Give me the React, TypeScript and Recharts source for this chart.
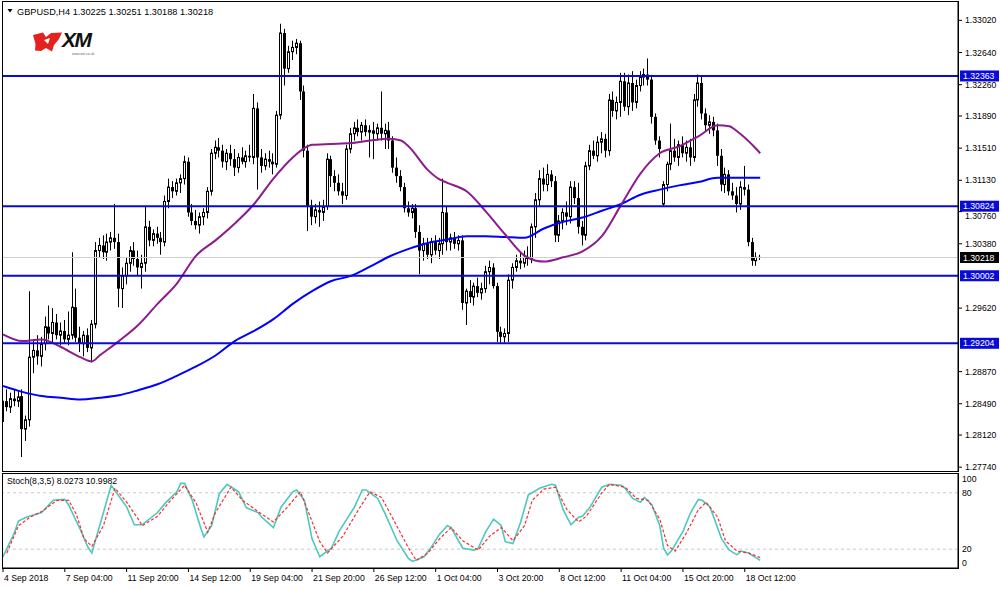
import React from 'react';
import { ComposedChart, Bar, Line, XAxis, YAxis, ReferenceLine } from 'recharts';

const FONT = '"Liberation Sans", Arial, sans-serif';

// ---------- price data (H4 candles, index 0..196) ----------
const opens = [
  1.2828, 1.2852, 1.2845, 1.2855, 1.2852, 1.2858, 1.2819, 1.2830, 1.2904, 1.2912,
  1.2905, 1.2920, 1.2940, 1.2932, 1.2945, 1.2930, 1.2935, 1.2925, 1.2930, 1.2963,
  1.2927, 1.2920, 1.2930, 1.2915, 1.2943, 1.3030, 1.3036, 1.3028, 1.3040, 1.3045,
  1.3040, 1.2985, 1.3000, 1.3015, 1.3030, 1.3020, 1.3010, 1.3015, 1.3058, 1.3042,
  1.3050, 1.3045, 1.3040, 1.3088, 1.3105, 1.3100, 1.3110, 1.3115, 1.3135, 1.3075,
  1.3065, 1.3060, 1.3070, 1.3075, 1.3100, 1.3145, 1.3152, 1.3148, 1.3135, 1.3145,
  1.3138, 1.3128, 1.3140, 1.3135, 1.3142, 1.3140, 1.3198, 1.3140, 1.3130, 1.3138,
  1.3135, 1.3132, 1.3190, 1.3287, 1.3245, 1.3265, 1.3270, 1.3275, 1.3218, 1.3148,
  1.3083, 1.3070, 1.3078, 1.3075, 1.3082, 1.3138, 1.3118, 1.3110, 1.3100, 1.3095,
  1.3150, 1.3168, 1.3175, 1.3170, 1.3178, 1.3170, 1.3172, 1.3168, 1.3175, 1.3168,
  1.3172, 1.3160, 1.3128, 1.3118, 1.3105, 1.3080, 1.3075, 1.3080, 1.3052, 1.3030,
  1.3038, 1.3025, 1.3040, 1.3030, 1.3038, 1.3075, 1.3040, 1.3045, 1.3038, 1.3042,
  1.2968, 1.2982, 1.2975, 1.2988, 1.2980, 1.2985, 1.3005, 1.3010, 1.2988, 1.2934,
  1.2928, 1.2932, 1.2995, 1.3010, 1.3018, 1.3015, 1.3022, 1.3020, 1.3058, 1.3090,
  1.3115, 1.3108, 1.3120, 1.3112, 1.3048, 1.3065, 1.3075, 1.3070, 1.3105, 1.3092,
  1.3058, 1.3048, 1.3130, 1.3148, 1.3142, 1.3158, 1.3162, 1.3148, 1.3208, 1.3195,
  1.3205, 1.3230, 1.3200, 1.3228, 1.3205, 1.3225, 1.3235, 1.3238, 1.3232, 1.3188,
  1.3160, 1.3085, 1.3108, 1.3132, 1.3148, 1.3140, 1.3155, 1.3145, 1.3152, 1.3140,
  1.3208, 1.3228, 1.3192, 1.3178, 1.3182, 1.3172, 1.3142, 1.3108, 1.3120, 1.3100,
  1.3095, 1.3085, 1.3105, 1.3102, 1.3040, 1.3018, 1.30225,
];
const highs = [
  1.2857, 1.2866, 1.2862, 1.2866, 1.2864, 1.2866, 1.2835, 1.2982, 1.2925, 1.2930,
  1.2928, 1.2952, 1.2965, 1.2962, 1.2955, 1.2945, 1.2948, 1.2958, 1.3028, 1.2985,
  1.2940, 1.2935, 1.2938, 1.2948, 1.3040, 1.3045, 1.3048, 1.3050, 1.3052, 1.3085,
  1.3050, 1.3010, 1.3022, 1.3035, 1.3040, 1.3030, 1.3025, 1.3082, 1.3065, 1.3055,
  1.3058, 1.3052, 1.3095, 1.3115, 1.3112, 1.3115, 1.3120, 1.3142, 1.3140, 1.3085,
  1.3078, 1.3075, 1.3080, 1.3105, 1.3150, 1.3160, 1.3163, 1.3155, 1.3150, 1.3155,
  1.3150, 1.3145, 1.3152, 1.3148, 1.3155, 1.3215, 1.3205, 1.3150, 1.3145, 1.3148,
  1.3145, 1.3195, 1.3298, 1.3292, 1.3272, 1.3278, 1.3280, 1.3278, 1.3225, 1.3155,
  1.3090, 1.3085, 1.3088, 1.3090, 1.3145, 1.3142, 1.3125, 1.3120, 1.3110, 1.3155,
  1.3175, 1.3182, 1.3185, 1.3182, 1.3185, 1.3178, 1.3182, 1.3180, 1.3218, 1.3180,
  1.3182, 1.3165, 1.3140, 1.3125, 1.3110, 1.3088, 1.3085, 1.3085, 1.3060, 1.3045,
  1.3045, 1.3045, 1.3048, 1.3045, 1.3115, 1.3082, 1.3050, 1.3052, 1.3048, 1.3048,
  1.2985, 1.2995, 1.2992, 1.2998, 1.2992, 1.3012, 1.3018, 1.3015, 1.2992, 1.2940,
  1.2938, 1.3002, 1.3015, 1.3025, 1.3028, 1.3030, 1.3035, 1.3062, 1.3098, 1.3125,
  1.3128, 1.3132, 1.3125, 1.3118, 1.3072, 1.3080, 1.3088, 1.3112, 1.3112, 1.3110,
  1.3065, 1.3135, 1.3155, 1.3160, 1.3165, 1.3170, 1.3168, 1.3215, 1.3218, 1.3212,
  1.3240, 1.3240, 1.3238, 1.3242, 1.3232, 1.3242, 1.3245, 1.3257, 1.3236, 1.3192,
  1.3165, 1.3112, 1.3135, 1.3180, 1.3162, 1.3160, 1.3165, 1.3160, 1.3162, 1.3215,
  1.3238, 1.3237, 1.3198, 1.3190, 1.3188, 1.3180, 1.3150, 1.3128, 1.3125, 1.3110,
  1.3105, 1.3112, 1.3130, 1.3108, 1.3045, 1.3028, 1.30251,
];
const lows = [
  1.2812, 1.2840, 1.2838, 1.2846, 1.2845, 1.2786, 1.2805, 1.2822, 1.2885, 1.2895,
  1.2893, 1.2912, 1.2925, 1.2920, 1.2925, 1.2918, 1.2920, 1.2918, 1.2925, 1.2922,
  1.2910, 1.2905, 1.2910, 1.2898, 1.2938, 1.3022, 1.3020, 1.3018, 1.3030, 1.3032,
  1.2963, 1.2962, 1.2990, 1.3005, 1.3012, 1.3000, 1.2985, 1.3005, 1.3035, 1.3035,
  1.3038, 1.3025, 1.3035, 1.3080, 1.3092, 1.3095, 1.3098, 1.3108, 1.3070, 1.3060,
  1.3055, 1.3050, 1.3060, 1.3068, 1.3095, 1.3138, 1.3140, 1.3128, 1.3125, 1.3130,
  1.3118, 1.3122, 1.3132, 1.3128, 1.3135, 1.3132, 1.3102, 1.3122, 1.3125, 1.3128,
  1.3120, 1.3128, 1.3185, 1.3225, 1.3240, 1.3255, 1.3262, 1.3208, 1.3140, 1.3053,
  1.3060, 1.3062, 1.3058, 1.3065, 1.3078, 1.3105, 1.3100, 1.3095, 1.3085, 1.3090,
  1.3145, 1.3160, 1.3165, 1.3160, 1.3165, 1.3140, 1.3138, 1.3160, 1.3160, 1.3150,
  1.3150, 1.3122, 1.3110, 1.3100, 1.3075, 1.3070, 1.3068, 1.3045, 1.3002, 1.3018,
  1.3020, 1.3015, 1.3025, 1.3020, 1.3025, 1.3030, 1.3030, 1.3032, 1.3030, 1.2960,
  1.2942, 1.2968, 1.2965, 1.2975, 1.2972, 1.2980, 1.2990, 1.2985, 1.2922, 1.2921,
  1.2921, 1.2922, 1.2985, 1.3005, 1.3008, 1.3010, 1.3012, 1.3015, 1.3045, 1.3082,
  1.3100, 1.3100, 1.3105, 1.3040, 1.3040, 1.3055, 1.3060, 1.3062, 1.3085, 1.3050,
  1.3036, 1.3042, 1.3125, 1.3138, 1.3135, 1.3145, 1.3140, 1.3142, 1.3188, 1.3185,
  1.3188, 1.3195, 1.3190, 1.3195, 1.3198, 1.3218, 1.3225, 1.3225, 1.3180, 1.3155,
  1.3140, 1.3082, 1.3100, 1.3125, 1.3135, 1.3130, 1.3140, 1.3135, 1.3130, 1.3135,
  1.3200, 1.3185, 1.3170, 1.3168, 1.3165, 1.3130, 1.3100, 1.3098, 1.3095, 1.3090,
  1.3075, 1.3078, 1.3095, 1.3035, 1.3012, 1.3012, 1.30188,
];
const closes = [
  1.2852, 1.2845, 1.2855, 1.2852, 1.2857, 1.2819, 1.2830, 1.2904, 1.2912, 1.2905,
  1.2920, 1.2940, 1.2932, 1.2945, 1.2930, 1.2935, 1.2925, 1.2930, 1.2963, 1.2927,
  1.2920, 1.2930, 1.2915, 1.2943, 1.3030, 1.3036, 1.3028, 1.3040, 1.3045, 1.3040,
  1.2985, 1.3000, 1.3015, 1.3030, 1.3020, 1.3010, 1.3015, 1.3058, 1.3042, 1.3050,
  1.3045, 1.3040, 1.3088, 1.3105, 1.3100, 1.3110, 1.3115, 1.3135, 1.3075, 1.3065,
  1.3060, 1.3070, 1.3075, 1.3100, 1.3145, 1.3152, 1.3148, 1.3135, 1.3145, 1.3138,
  1.3128, 1.3140, 1.3135, 1.3142, 1.3140, 1.3198, 1.3140, 1.3130, 1.3138, 1.3135,
  1.3132, 1.3190, 1.3287, 1.3245, 1.3265, 1.3270, 1.3275, 1.3218, 1.3148, 1.3083,
  1.3070, 1.3078, 1.3075, 1.3082, 1.3138, 1.3118, 1.3110, 1.3100, 1.3095, 1.3150,
  1.3168, 1.3175, 1.3170, 1.3178, 1.3170, 1.3172, 1.3168, 1.3175, 1.3168, 1.3172,
  1.3160, 1.3128, 1.3118, 1.3105, 1.3080, 1.3075, 1.3080, 1.3052, 1.3030, 1.3038,
  1.3025, 1.3040, 1.3030, 1.3038, 1.3075, 1.3040, 1.3045, 1.3038, 1.3042, 1.2968,
  1.2982, 1.2975, 1.2988, 1.2980, 1.2985, 1.3005, 1.3010, 1.2988, 1.2934, 1.2928,
  1.2932, 1.2995, 1.3010, 1.3018, 1.3015, 1.3022, 1.3020, 1.3058, 1.3090, 1.3115,
  1.3108, 1.3120, 1.3112, 1.3048, 1.3065, 1.3075, 1.3070, 1.3105, 1.3092, 1.3058,
  1.3048, 1.3130, 1.3148, 1.3142, 1.3158, 1.3162, 1.3148, 1.3208, 1.3195, 1.3205,
  1.3230, 1.3200, 1.3228, 1.3205, 1.3225, 1.3235, 1.3238, 1.3232, 1.3188, 1.3160,
  1.3150, 1.3108, 1.3132, 1.3148, 1.3140, 1.3155, 1.3145, 1.3152, 1.3140, 1.3208,
  1.3228, 1.3192, 1.3178, 1.3182, 1.3172, 1.3142, 1.3108, 1.3120, 1.3100, 1.3095,
  1.3085, 1.3105, 1.3102, 1.3040, 1.3018, 1.3022, 1.30218,
];

const maFastIdx = [0, 5, 10, 15, 20, 23, 25, 30, 35, 40, 45, 50, 55, 60, 65, 70, 75, 78, 80, 85, 90, 95, 100, 103, 105, 110, 113, 115, 120, 125, 130, 135, 138, 140, 145, 150, 155, 160, 165, 170, 175, 180, 185, 188, 190, 195, 196];
const maFastVal = [1.2931, 1.2923, 1.2925, 1.2916, 1.2904, 1.2899, 1.2906, 1.2923, 1.2942, 1.2967, 1.2991, 1.3024, 1.3042, 1.3062, 1.3085, 1.3115, 1.3140, 1.3151, 1.3155, 1.3156, 1.3157, 1.3160, 1.3162, 1.3160, 1.3153, 1.3125, 1.3114, 1.3110, 1.3100, 1.3076, 1.3049, 1.3024, 1.3018, 1.3017, 1.3022, 1.3029, 1.3047, 1.3084, 1.3121, 1.3145, 1.3153, 1.3165, 1.3178, 1.3177, 1.3171, 1.3150, 1.3145];
const maSlowIdx = [0, 5, 10, 15, 20, 25, 30, 35, 40, 45, 50, 55, 60, 65, 70, 75, 80, 85, 90, 95, 100, 105, 110, 115, 120, 125, 130, 135, 140, 145, 150, 155, 160, 165, 170, 175, 180, 185, 190, 196];
const maSlowVal = [1.2870, 1.2863, 1.2858, 1.2856, 1.2854, 1.2856, 1.2859, 1.2865, 1.2872, 1.2882, 1.2893, 1.2906, 1.2923, 1.2935, 1.2949, 1.2967, 1.2982, 1.2994, 1.3000, 1.3011, 1.3023, 1.3032, 1.3039, 1.3043, 1.3047, 1.3047, 1.3046, 1.3045, 1.3056, 1.3064, 1.3069, 1.3077, 1.3085, 1.3096, 1.3102, 1.3107, 1.3111, 1.3116, 1.3116, 1.3116];

// stochastic (8,3,5)
const stochKIdx = [0, 3, 4, 6, 10, 13, 16, 17, 20, 22, 23, 26, 28, 32, 34, 36, 40, 42, 45, 46, 47, 49, 51, 52, 54, 56, 58, 61, 63, 66, 67, 70, 72, 75, 76, 78, 80, 82, 85, 87, 91, 93, 94, 97, 99, 102, 105, 106, 109, 111, 113, 115, 116, 119, 122, 123, 125, 127, 129, 130, 132, 134, 136, 137, 139, 142, 143, 145, 147, 149, 150, 152, 155, 157, 160, 161, 163, 165, 166, 168, 170, 171, 172, 173, 176, 178, 180, 181, 183, 186, 188, 190, 191, 193, 196];
const stochKVal = [12, 38, 50, 54, 59, 72, 73, 67, 41, 22, 16, 59, 88, 65, 46, 46, 59, 69, 81, 90, 90, 72, 45, 33, 45, 79, 89, 81, 64, 59, 54, 43, 65, 81, 83, 72, 31, 12, 21, 39, 65, 83, 83, 74, 57, 29, 10, 7, 12, 23, 36, 45, 43, 21, 19, 21, 39, 52, 45, 28, 26, 49, 78, 80, 85, 89, 88, 62, 46, 54, 55, 65, 86, 89, 88, 85, 74, 70, 75, 67, 45, 21, 14, 18, 39, 59, 73, 72, 65, 31, 19, 14, 18, 16, 8.03];
const stochDIdx = [1, 4, 7, 10, 14, 17, 19, 21, 23, 26, 29, 32, 35, 36, 40, 43, 47, 50, 53, 55, 59, 62, 66, 70, 73, 77, 79, 82, 84, 88, 92, 95, 98, 101, 105, 107, 110, 113, 116, 119, 123, 126, 129, 132, 135, 137, 140, 143, 146, 149, 151, 155, 157, 161, 164, 167, 170, 172, 174, 177, 180, 182, 185, 187, 190, 193, 196];
const stochDVal = [16, 45, 54, 60, 72, 72, 57, 31, 23, 45, 85, 70, 52, 45, 55, 70, 88, 69, 38, 59, 86, 72, 60, 49, 62, 81, 60, 28, 16, 34, 62, 81, 75, 52, 21, 8, 16, 31, 43, 29, 19, 34, 43, 29, 45, 72, 84, 86, 62, 49, 55, 80, 89, 86, 74, 72, 52, 24, 18, 38, 62, 70, 54, 29, 18, 16, 11.0];

// levels and axes
const levelLines = [1.32363, 1.30824, 1.30002, 1.29204];
const lastPrice = 1.30218;
const priceTicks = [1.3302, 1.3264, 1.3226, 1.3189, 1.3151, 1.3113, 1.3076, 1.3038, 1.2962, 1.2887, 1.2849, 1.2812, 1.2774];
const stochTicks = [0, 20, 80, 100];
const timeTickIdx = [0, 16, 32, 48, 64, 80, 96, 112, 128, 144, 160, 176, 192];
const timeTickLabels = ['4 Sep 2018', '7 Sep 04:00', '11 Sep 20:00', '14 Sep 12:00', '19 Sep 04:00', '21 Sep 20:00', '26 Sep 12:00', '1 Oct 04:00', '3 Oct 20:00', '8 Oct 12:00', '11 Oct 04:00', '15 Oct 20:00', '18 Oct 12:00'];

const X_DOMAIN: [number, number] = [0, 247.2];
const PRICE_DOMAIN: [number, number] = [1.27695, 1.33237];

const priceRows: any[] = opens.map((o, i) => ({
  i, o, h: highs[i], l: lows[i], c: closes[i], range: [lows[i], highs[i]], fast: null, slow: null,
}));
maFastIdx.forEach((idx, k) => { priceRows[idx].fast = maFastVal[k]; });
maSlowIdx.forEach((idx, k) => { priceRows[idx].slow = maSlowVal[k]; });

const stochRows: any[] = opens.map((_, i) => ({ i, k: null, d: null }));
stochKIdx.forEach((idx, n) => { stochRows[idx].k = stochKVal[n]; });
stochDIdx.forEach((idx, n) => { stochRows[idx].d = stochDVal[n]; });

const Candle = (props: any) => {
  const { x, y, width, height, payload } = props;
  if (!payload || x == null) return null;
  const { o, h, l, c } = payload;
  const top0 = Math.min(y, y + height);
  const hg = Math.abs(height);
  const cx = Math.floor(x + width / 2) + 0.5;
  const span = h - l;
  const ppp = span > 0 ? hg / span : 0;
  const yOf = (p: number) => top0 + (h - p) * ppp;
  const bTop = yOf(Math.max(o, c));
  const bBot = yOf(Math.min(o, c));
  const bull = c >= o;
  return (
    <g>
      <line x1={cx} x2={cx} y1={top0} y2={top0 + hg} stroke="#000" strokeWidth={1} />
      {bull ? (
        <rect x={cx - 1} y={bTop} width={2} height={Math.max(bBot - bTop, 0.6)} fill="#fff" stroke="#000" strokeWidth={1} />
      ) : (
        <rect x={cx - 1.5} y={bTop} width={3} height={Math.max(bBot - bTop, 1)} fill="#000" />
      )}
    </g>
  );
};

const PriceTag = ({ viewBox, text, bg }: any) => {
  if (!viewBox) return null;
  const x = viewBox.x + viewBox.width + 2;
  const y = viewBox.y;
  return (
    <g>
      <rect x={x} y={y - 5.5} width={39} height={11} fill={bg} />
      <text x={x + 3} y={y} dy="0.35em" fill="#fff" fontSize={8.7} fontFamily={FONT}>{text}</text>
    </g>
  );
};

const PriceTick = (props: any) => {
  const { x, y, payload } = props;
  const v = payload.value;
  const off = Math.abs(v - 1.3076) < 1e-6 ? 4.5 : 0;
  return (
    <text x={x} y={y + off} dy="0.35em" textAnchor="start" fontSize={8.7} fill="#000" fontFamily={FONT}>{v.toFixed(5)}</text>
  );
};

const TimeTick = (props: any) => {
  const { x, y, payload } = props;
  const label = timeTickLabels[timeTickIdx.indexOf(payload.value)];
  return (
    <text x={x + 1} y={y} dy="0.71em" textAnchor="start" fontSize={8.7} fill="#000" fontFamily={FONT}>{label}</text>
  );
};

const StochTick = (props: any) => {
  const { x, y, payload } = props;
  const v = payload.value;
  const off = v === 100 ? 5 : v === 0 ? -5 : 0;
  return (
    <text x={x} y={y + off} dy="0.35em" textAnchor="start" fontSize={8.7} fill="#000" fontFamily={FONT}>{v}</text>
  );
};

const BLUE_LVL = '#0a0ad8';

export default function App() {
  return (
    <div style={{ position: 'absolute', left: 0, top: 0, width: 1000, height: 590, background: '#fff', overflow: 'hidden', fontFamily: FONT }}>
      <div style={{ position: 'absolute', left: 0, top: 0 }}>
        <ComposedChart width={1000} height={472} data={priceRows} margin={{ top: 2, right: 0, bottom: 1, left: 3 }}>
          <XAxis dataKey="i" type="number" domain={X_DOMAIN} allowDataOverflow hide />
          <YAxis
            orientation="right"
            width={42}
            type="number"
            domain={PRICE_DOMAIN}
            allowDataOverflow
            ticks={priceTicks}
            interval={0}
            tickSize={4}
            tickMargin={3}
            axisLine={{ stroke: '#000' }}
            tickLine={{ stroke: '#000' }}
            tick={(p: any) => <PriceTick {...p} />}
          />
          <ReferenceLine
            y={lastPrice}
            stroke="#cfcfcf"
            strokeWidth={1}
            label={(p: any) => <PriceTag viewBox={p.viewBox} text={lastPrice.toFixed(5)} bg="#000" />}
          />
          <Bar dataKey="range" barSize={3} shape={(p: any) => <Candle {...p} />} isAnimationActive={false} />
          <Line dataKey="slow" type="monotone" stroke="#0000ff" strokeWidth={2} dot={false} connectNulls isAnimationActive={false} />
          <Line dataKey="fast" type="monotone" stroke="#8c1c8c" strokeWidth={2} dot={false} connectNulls isAnimationActive={false} />
          {levelLines.map((lv) => (
            <ReferenceLine
              key={lv}
              y={lv}
              stroke={BLUE_LVL}
              strokeWidth={2}
              label={(p: any) => <PriceTag viewBox={p.viewBox} text={lv.toFixed(5)} bg={BLUE_LVL} />}
            />
          ))}
        </ComposedChart>
      </div>
      <div style={{ position: 'absolute', left: 0, top: 472 }}>
        <ComposedChart width={1000} height={118} data={stochRows} margin={{ top: 2, right: 0, bottom: 0, left: 3 }}>
          <XAxis
            dataKey="i"
            type="number"
            domain={X_DOMAIN}
            allowDataOverflow
            ticks={timeTickIdx}
            interval={0}
            height={22}
            tickSize={4}
            tickMargin={3}
            axisLine={{ stroke: '#000' }}
            tickLine={{ stroke: '#000' }}
            tick={(p: any) => <TimeTick {...p} />}
          />
          <YAxis
            orientation="right"
            width={42}
            type="number"
            domain={[0, 100]}
            allowDataOverflow
            ticks={stochTicks}
            interval={0}
            tickSize={4}
            tickMargin={0}
            tickLine={false}
            axisLine={{ stroke: '#000' }}
            tick={(p: any) => <StochTick {...p} />}
          />
          <ReferenceLine y={80} stroke="#c8c8c8" strokeDasharray="3 3" />
          <ReferenceLine y={20} stroke="#c8c8c8" strokeDasharray="3 3" />
          <Line dataKey="k" type="linear" stroke="#4cc8bc" strokeWidth={1.6} dot={false} connectNulls isAnimationActive={false} />
          <Line dataKey="d" type="linear" stroke="#ff2a2a" strokeWidth={1.2} strokeDasharray="3 2" dot={false} connectNulls isAnimationActive={false} />
        </ComposedChart>
      </div>
      {/* panel frames */}
      <div style={{ position: 'absolute', left: 2, top: 1, width: 957, height: 471, border: '1px solid #000', boxSizing: 'border-box', pointerEvents: 'none' }} />
      <div style={{ position: 'absolute', left: 2, top: 473, width: 957, height: 96, border: '1px solid #000', boxSizing: 'border-box', pointerEvents: 'none' }} />
      {/* title and logo */}
      <svg style={{ position: 'absolute', left: 0, top: 0 }} width={330} height={62}>
        <polygon points="7.5,9 12.5,9 10,12.5" fill="#000" />
        <text x={17} y={14.5} fontSize={9.2} fill="#000" fontFamily={FONT}>GBPUSD,H4  1.30225 1.30251 1.30188 1.30218</text>
        <path d="M33,35 L43,32.5 L46,37 L51,33 L62,32.5 L59,39 L54,45 L52,51.5 L46,48 L41,51 L35,50.5 L35.5,44 Z" fill="#e3211e" />
        <path d="M44,40 L50,38 L48,44 Z" fill="#fff" />
        <text x={62} y={47} fontSize={21} fontWeight={900} fontStyle="italic" fill="#111" fontFamily={FONT} letterSpacing={-1.5}>XM</text>
        <text x={72} y={55} fontSize={3.5} fill="#666" fontFamily={FONT}>www.xm.co.uk</text>
      </svg>
      <div style={{ position: 'absolute', left: 7, top: 476, fontSize: 8.7, lineHeight: '11px', color: '#000', whiteSpace: 'pre' }}>
        Stoch(8,3,5) 8.0273 10.9982
      </div>
    </div>
  );
}
